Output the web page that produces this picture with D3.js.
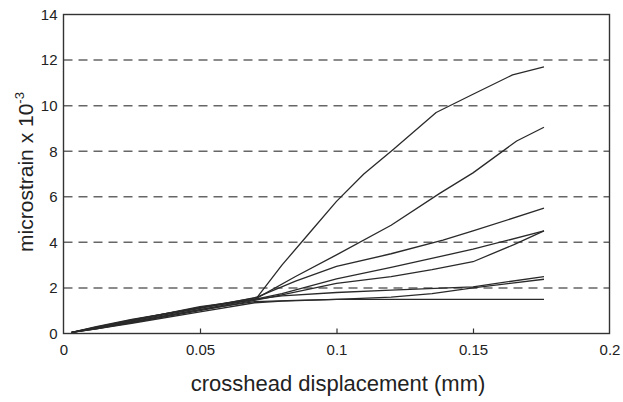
<!DOCTYPE html>
<html><head><meta charset="utf-8">
<script src="https://cdn.jsdelivr.net/npm/d3@7"></script>
<style>body{margin:0;background:#fff}</style>
</head><body>
<svg id="c" width="623" height="402"></svg>
<script>
const xTicks = [0, 0.05, 0.1, 0.15, 0.2];
const xTickLabels = ["0", "0.05", "0.1", "0.15", "0.2"];
const yTicks = [0, 2, 4, 6, 8, 10, 12, 14];
const gridLevels = [2, 4, 6, 8, 10, 12];

const seriesA = [[0.003,0.05],[0.012,0.25],[0.025,0.55],[0.05,1.1],[0.071,1.6],[0.08,3.0],[0.09,4.4],[0.1,5.8],[0.11,7.0],[0.121,8.1],[0.1365,9.7],[0.15,10.5],[0.1645,11.35],[0.176,11.7]];
const seriesB = [[0.003,0.05],[0.012,0.22],[0.025,0.5],[0.05,1.05],[0.07,1.5],[0.085,2.5],[0.1,3.45],[0.12,4.75],[0.1378,6.15],[0.15,7.05],[0.166,8.45],[0.176,9.05]];
const seriesC = [[0.003,0.05],[0.012,0.28],[0.025,0.6],[0.05,1.15],[0.07,1.55],[0.085,2.3],[0.1,2.95],[0.12,3.5],[0.139,4.1],[0.15,4.5],[0.176,5.5]];
const seriesD = [[0.003,0.05],[0.012,0.3],[0.025,0.62],[0.05,1.12],[0.07,1.5],[0.08,1.75],[0.1,2.4],[0.12,2.9],[0.15,3.7],[0.176,4.5]];
const seriesE = [[0.003,0.05],[0.012,0.2],[0.025,0.48],[0.05,1.0],[0.07,1.45],[0.08,1.7],[0.1,2.2],[0.12,2.5],[0.135,2.8],[0.15,3.15],[0.165,3.9],[0.176,4.5]];
const seriesF = [[0.003,0.05],[0.012,0.27],[0.025,0.58],[0.05,1.18],[0.07,1.5],[0.08,1.65],[0.1,1.8],[0.12,1.9],[0.15,2.05],[0.176,2.5]];
const seriesG = [[0.003,0.05],[0.012,0.24],[0.025,0.52],[0.05,1.05],[0.07,1.4],[0.085,1.45],[0.1,1.5],[0.12,1.6],[0.135,1.75],[0.15,2.0],[0.176,2.38]];
const seriesH = [[0.003,0.05],[0.012,0.2],[0.025,0.45],[0.05,0.95],[0.07,1.35],[0.08,1.42],[0.1,1.5],[0.176,1.5]];
const allSeries = [seriesA, seriesB, seriesC, seriesD, seriesE, seriesF, seriesG, seriesH];

const svg = d3.select("#c");
const L = 63.5, R = 609.5, T = 14.5, B = 333.5;
const x = d3.scaleLinear().domain([0, 0.2]).range([L, R]);
const y = d3.scaleLinear().domain([0, 14]).range([B, T]);
const font = "'Liberation Sans', Arial, Helvetica, sans-serif";

// grid
svg.append("g").selectAll("line").data(gridLevels).join("line")
  .attr("x1", L).attr("x2", R)
  .attr("y1", d => y(d)).attr("y2", d => y(d))
  .attr("stroke", "#666").attr("stroke-width", 1.5)
  .attr("stroke-dasharray", "9,6");

// lines
const line = d3.line().x(d => x(d[0])).y(d => y(d[1]));
svg.append("g").selectAll("path").data(allSeries).join("path")
  .attr("d", line).attr("fill", "none")
  .attr("stroke", "#2a2a2a").attr("stroke-width", 1.3)
  .attr("stroke-linejoin", "round");

// frame
svg.append("rect").attr("x", L).attr("y", T).attr("width", R - L).attr("height", B - T)
  .attr("fill", "none").attr("stroke", "#333").attr("stroke-width", 1.4);

// x axis
const xAxis = d3.axisBottom(x).tickValues(xTicks).tickSize(-5).tickPadding(11)
  .tickFormat((d, i) => xTickLabels[i]);
const gx = svg.append("g").attr("transform", `translate(0,${B})`).call(xAxis);
gx.select(".domain").remove();
gx.selectAll(".tick line").attr("stroke", "#333").attr("stroke-width", 1.2)
  .filter(d => d === 0 || d === 0.2).remove();
gx.selectAll("text").attr("font-family", font).attr("font-size", 15).attr("fill", "#222");

// y axis
const yAxis = d3.axisLeft(y).tickValues(yTicks).tickSize(0).tickPadding(6).tickFormat(d3.format("d"));
const gy = svg.append("g").attr("transform", `translate(${L},0)`).call(yAxis);
gy.select(".domain").remove();
gy.selectAll("text").attr("font-family", font).attr("font-size", 15).attr("fill", "#222");

// axis titles
svg.append("text").attr("x", 338).attr("y", 391)
  .attr("text-anchor", "middle").attr("font-family", font).attr("font-size", 22)
  .attr("fill", "#222").text("crosshead displacement (mm)");

const yt = svg.append("text").attr("transform", `translate(33,${(T + B) / 2 - 2}) rotate(-90)`)
  .attr("text-anchor", "middle").attr("font-family", font).attr("font-size", 21)
  .attr("fill", "#222");
yt.append("tspan").text("microstrain x 10");
yt.append("tspan").attr("dy", -9).attr("font-size", 13).text("-3");
</script>
</body></html>
